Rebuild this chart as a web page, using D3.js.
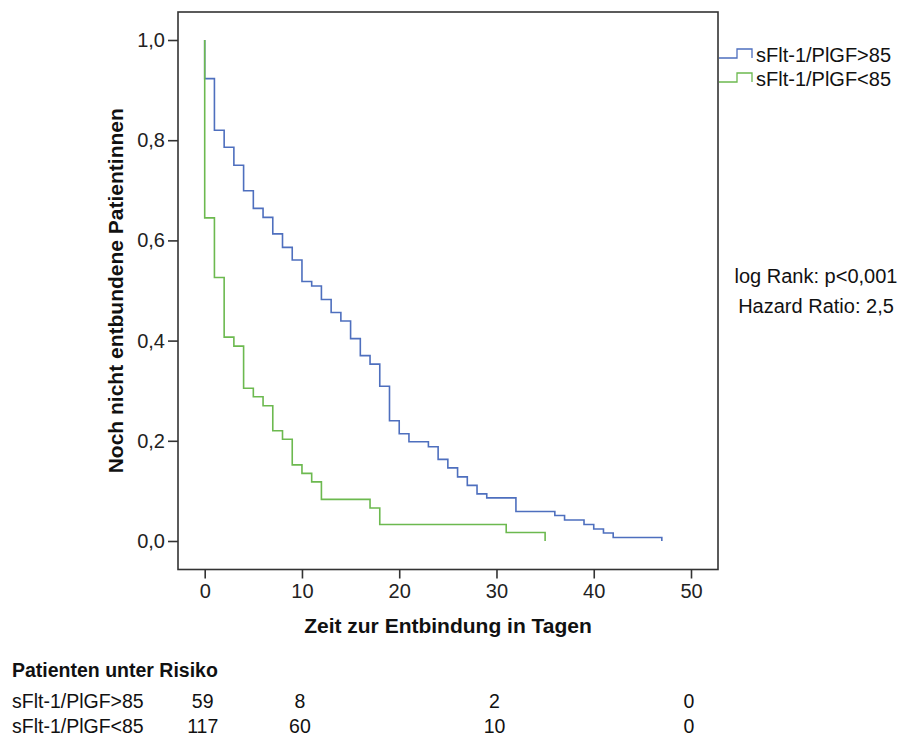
<!DOCTYPE html>
<html>
<head>
<meta charset="utf-8">
<script src="https://cdn.jsdelivr.net/npm/d3@7"></script>
<style>
  body { margin: 0; background: #fff; }
  svg { display: block; font-family: "Liberation Sans", Arial, sans-serif; }
</style>
</head>
<body>
<svg id="chart" width="903" height="736"></svg>
<script>
// ---- Data ----
const seriesNames = ["sFlt-1/PlGF>85", "sFlt-1/PlGF<85"];
// event times (days) and survival after each event
const blueTimes = [0, 1, 2, 3, 4, 5, 6, 7, 8, 9, 10, 11, 12, 13, 14, 15, 16, 17, 18, 19, 20, 21, 23, 24, 25, 26, 27, 28, 29, 32, 36, 37, 39, 40, 41, 42, 47];
const blueSurv  = [0.923, 0.820, 0.786, 0.750, 0.699, 0.664, 0.646, 0.613, 0.586, 0.561, 0.518, 0.509, 0.482, 0.456, 0.439, 0.404, 0.370, 0.353, 0.309, 0.240, 0.214, 0.198, 0.188, 0.163, 0.146, 0.128, 0.111, 0.094, 0.086, 0.059, 0.051, 0.042, 0.033, 0.024, 0.016, 0.007, 0.0];
const greenTimes = [0, 1, 2, 3, 4, 5, 6, 7, 8, 9, 10, 11, 12, 17, 18, 31, 35];
const greenSurv  = [0.645, 0.526, 0.407, 0.389, 0.305, 0.288, 0.270, 0.220, 0.203, 0.152, 0.135, 0.118, 0.083, 0.066, 0.033, 0.017, 0.0];
const xTicks = [0, 10, 20, 30, 40, 50];
const yTicks = [0, 0.2, 0.4, 0.6, 0.8, 1.0];
const riskTimes = [0, 10, 30, 50];
const riskBlue = [59, 8, 2, 0];
const riskGreen = [117, 60, 10, 0];
const statsLines = ["log Rank: p<0,001", "Hazard Ratio: 2,5"];
const riskTitle = "Patienten unter Risiko";
const xTitle = "Zeit zur Entbindung in Tagen";
const yTitle = "Noch nicht entbundene Patientinnen";

// ---- Layout ----
const svg = d3.select("#chart");
const frame = { left: 178, top: 12, right: 718, bottom: 569.5 };
const x = d3.scaleLinear().domain([0, 50]).range([204.7, 691]);
const y = d3.scaleLinear().domain([0, 1]).range([541, 40]);
const colors = ["#4e6fbe", "#6cb94f"];
const axisColor = "#333";
const fmt = v => d3.format(".1f")(v).replace(".", ",");

// frame
svg.append("rect")
  .attr("x", frame.left).attr("y", frame.top)
  .attr("width", frame.right - frame.left).attr("height", frame.bottom - frame.top)
  .attr("fill", "none").attr("stroke", axisColor).attr("stroke-width", 1.6);

// x axis
const xAxis = d3.axisBottom(x).tickValues(xTicks).tickSize(9).tickPadding(5).tickFormat(d3.format("d"));
const gx = svg.append("g").attr("transform", `translate(0,${frame.bottom})`).call(xAxis);
gx.select(".domain").remove();
gx.selectAll(".tick line").attr("stroke", axisColor).attr("stroke-width", 1.6);
gx.selectAll(".tick text").attr("font-size", 20).attr("fill", "#222").attr("font-family", "Liberation Sans, Arial, sans-serif");

// y axis
const yAxis = d3.axisLeft(y).tickValues(yTicks).tickSize(10).tickPadding(3).tickFormat(fmt);
const gy = svg.append("g").attr("transform", `translate(${frame.left},0)`).call(yAxis);
gy.select(".domain").remove();
gy.selectAll(".tick line").attr("stroke", axisColor).attr("stroke-width", 1.6);
gy.selectAll(".tick text").attr("font-size", 20).attr("fill", "#222").attr("font-family", "Liberation Sans, Arial, sans-serif");

// axis titles
svg.append("text")
  .attr("x", (frame.left + frame.right) / 2).attr("y", 633)
  .attr("text-anchor", "middle").attr("font-size", 21).attr("font-weight", "bold").attr("fill", "#111")
  .text(xTitle);
svg.append("text")
  .attr("transform", `translate(123,${(frame.top + frame.bottom) / 2}) rotate(-90)`)
  .attr("text-anchor", "middle").attr("font-size", 21).attr("font-weight", "bold").attr("fill", "#111")
  .text(yTitle);

// survival curves
const line = d3.line().x(d => x(d.t)).y(d => y(d.s)).curve(d3.curveStepAfter);
const mk = (times, surv) => [{ t: 0, s: 1 }].concat(times.map((t, i) => ({ t, s: surv[i] })));
const curves = [mk(blueTimes, blueSurv), mk(greenTimes, greenSurv)];
// draw blue first, green over it (green covers the shared start at day 0)
[0, 1].forEach(i => {
  svg.append("path").datum(curves[i])
    .attr("d", line).attr("fill", "none")
    .attr("stroke", colors[i]).attr("stroke-width", 1.6);
});

// legend
const legY = [58, 82];
seriesNames.forEach((name, i) => {
  const ly = legY[i];
  svg.append("path")
    .attr("d", `M${frame.right + 1},${ly} H737 V${ly - 9} H752 V${ly}`)
    .attr("fill", "none").attr("stroke", colors[i]).attr("stroke-width", 1.3);
  svg.append("text").attr("x", 756).attr("y", ly + 4)
    .attr("font-size", 20).attr("fill", "#111").text(name);
});

// stats
statsLines.forEach((s, i) => {
  svg.append("text").attr("x", 816).attr("y", 283 + i * 30)
    .attr("text-anchor", "middle").attr("font-size", 20).attr("fill", "#111").text(s);
});

// risk table
svg.append("text").attr("x", 12).attr("y", 677)
  .attr("font-size", 19.5).attr("font-weight", "bold").attr("fill", "#111").text(riskTitle);
[[riskBlue, 708], [riskGreen, 733]].forEach(([vals, ry], i) => {
  svg.append("text").attr("x", 12).attr("y", ry)
    .attr("font-size", 19.5).attr("fill", "#111").text(seriesNames[i]);
  svg.selectAll(null).data(vals).enter().append("text")
    .attr("x", (d, j) => x(riskTimes[j]) - 2).attr("y", ry)
    .attr("text-anchor", "middle").attr("font-size", 19.5).attr("fill", "#111")
    .text(d => d);
});
</script>
</body>
</html>
